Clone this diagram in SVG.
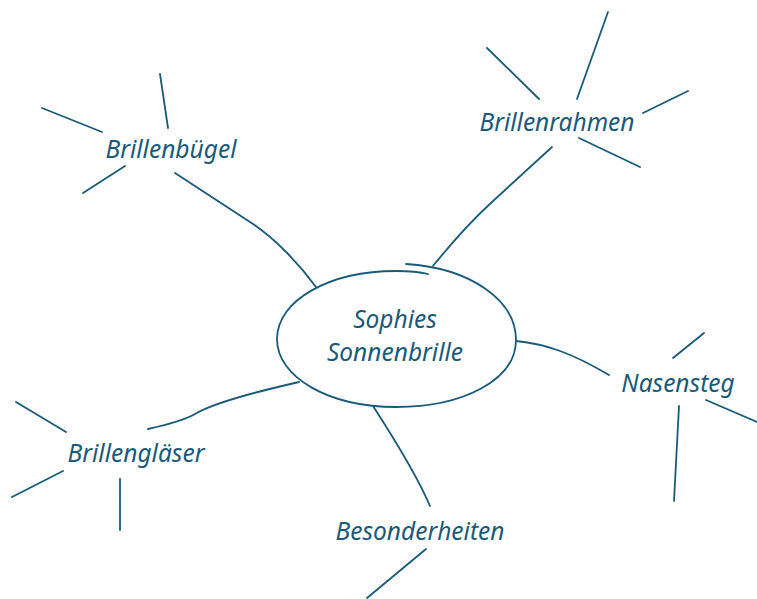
<svg xmlns="http://www.w3.org/2000/svg" width="757" height="599" viewBox="0 0 757 599">
<style>
.l{fill:none;stroke:#1a5a79;stroke-width:1.8;stroke-linecap:round}
.t{font-family:"Noto Sans",sans-serif;font-style:italic;font-size:24.5px;fill:#1a5a79;text-anchor:middle}
</style>
<rect width="757" height="599" fill="#fff"/>
<g id="connectors">
<path class="l" d="M175,173 L250,222 C275,238 300,265 316,287"/>
<path class="l" d="M552,147 L492,202 C470,222 450,245 433,266"/>
<path class="l" d="M516,341 C545,344 570,352 609,375"/>
<path class="l" d="M148,429 C170,424 185,420 195,414 C215,402 260,391 299,382"/>
<path class="l" d="M373,406 C395,440 418,478 430,506"/>
</g>
<g id="center">
<path class="l" d="M406,264 C470,268 516,300 516,340 C516,380 463,407 396,407 C330,407 277,378 277,339 C277,300 330,271 396,271 C410,271 420,272 428,274"/>
<text class="t" x="395" y="328">Sophies</text>
<text class="t" x="395" y="361">Sonnenbrille</text>
</g>
<g id="brillenbuegel">
<text class="t" x="171" y="158">Brillenbügel</text>
<path class="l" d="M42,108 L102,132 M160,74 L168,128 M125,166 L83,193"/>
</g>
<g id="brillenrahmen">
<text class="t" x="557" y="131">Brillenrahmen</text>
<path class="l" d="M487,48 L539,99 M608,12 L577,99 M688,91 L643,113 M579,138 L640,167"/>
</g>
<g id="nasensteg">
<text class="t" x="678" y="392">Nasensteg</text>
<path class="l" d="M704,333 L673,358 M706,400 L757,422 M679,406 L674,501"/>
</g>
<g id="brillenglaeser">
<text class="t" x="136" y="462">Brillengläser</text>
<path class="l" d="M16,402 L66,432 M63,471 L12,497 M120,479 L120,530"/>
</g>
<g id="besonderheiten">
<text class="t" x="420" y="540">Besonderheiten</text>
<path class="l" d="M426,549 L367,598"/>
</g>
</svg>
